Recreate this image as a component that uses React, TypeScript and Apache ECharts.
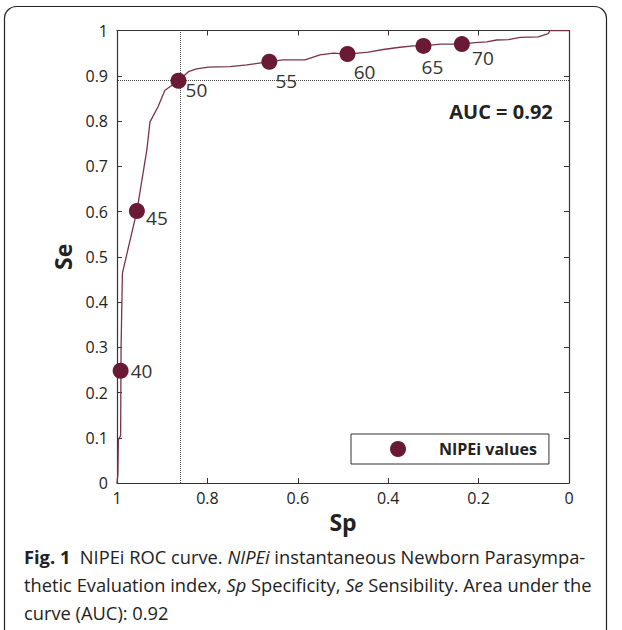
import React, { useEffect, useRef } from "react";
import * as echarts from "echarts";

// ROC curve (specificity, sensitivity)
const ROC_SP = [1, 0.998, 0.997, 0.992, 0.991, 0.988, 0.956, 0.934, 0.927, 0.909, 0.894, 0.864, 0.842, 0.824, 0.798, 0.75, 0.713, 0.663, 0.632, 0.584, 0.551, 0.521, 0.49, 0.444, 0.411, 0.374, 0.344, 0.322, 0.285, 0.237, 0.208, 0.182, 0.16, 0.134, 0.108, 0.068, 0.046, 0.042, 0];
const ROC_SE = [0, 0.02, 0.095, 0.105, 0.3, 0.464, 0.601, 0.736, 0.798, 0.832, 0.868, 0.889, 0.909, 0.915, 0.919, 0.92, 0.924, 0.931, 0.935, 0.935, 0.946, 0.95, 0.948, 0.952, 0.958, 0.963, 0.966, 0.966, 0.97, 0.97, 0.973, 0.975, 0.979, 0.98, 0.985, 0.986, 0.993, 1, 1];

// NIPEi threshold values
const THRESHOLDS = [40, 45, 50, 55, 60, 65, 70];
const POINT_SP = [0.992, 0.956, 0.864, 0.663, 0.49, 0.322, 0.237];
const POINT_SE = [0.248, 0.601, 0.889, 0.931, 0.948, 0.966, 0.97];

// optimal cut point
const CUT_SP = 0.864;
const CUT_SE = 0.89;

const AUC_TEXT = "AUC = 0.92";
const LEGEND_NAME = "NIPEi values";

// label offsets (style)
const LABEL_OFFSETS = [
  [21, 0],
  [20, 7],
  [18, 9],
  [17, 19],
  [17, 18],
  [9, 21],
  [21, 14],
];

const FONT = "'Open Sans', 'Noto Sans', sans-serif";
const INK = "#222";
const LINE_COLOR = "#7a3446";
const DOT_COLOR = "#6b1a36";
const CAP = 18.3;

export default function App() {
  const ref = useRef<HTMLDivElement>(null);
  useEffect(() => {
    if (!ref.current) return;
    const chart = echarts.init(ref.current, undefined, { renderer: "svg" });
    const axisCommon = {
      type: "value" as const,
      min: 0,
      max: 1,
      axisLine: { show: true, onZero: false, lineStyle: { color: "#333", width: 1.2 } },
      axisTick: { show: true, inside: true, length: 5, lineStyle: { color: "#333", width: 1 } },
      splitLine: { show: false },
    };
    const option: any = {
      animation: false,
      backgroundColor: "#fff",
      textStyle: { fontFamily: FONT },
      grid: { left: 117, top: 30.5, width: 452, height: 452.5 },
      xAxis: [
        {
          ...axisCommon,
          inverse: true,
          interval: 0.2,
          position: "bottom",
          name: "Sp",
          nameLocation: "middle",
          nameGap: 25,
          nameTextStyle: { fontSize: 23, fontWeight: "bold", color: INK, fontFamily: FONT },
          axisLabel: { margin: 7, fontSize: 16, color: INK, fontFamily: FONT },
        },
        {
          ...axisCommon,
          inverse: true,
          interval: 0.2,
          position: "top",
          axisLabel: { show: false },
        },
      ],
      yAxis: [
        {
          ...axisCommon,
          interval: 0.1,
          position: "left",
          name: "Se",
          nameLocation: "middle",
          nameRotate: 90,
          nameGap: 36,
          nameTextStyle: { fontSize: 23, fontWeight: "bold", color: INK, fontFamily: FONT },
          axisLabel: { margin: 9, fontSize: 16, color: INK, fontFamily: FONT },
        },
        {
          ...axisCommon,
          interval: 0.1,
          position: "right",
          axisLabel: { show: false },
        },
      ],
      legend: {
        data: [{ name: LEGEND_NAME, icon: "circle" }],
        left: 351,
        top: 434,
        orient: "horizontal",
        padding: [7, 12, 7, 39],
        itemWidth: 16,
        itemHeight: 16,
        borderColor: "#333",
        borderWidth: 1,
        borderRadius: 0,
        backgroundColor: "#fff",
        selectedMode: false,
        textStyle: { fontSize: 16, fontWeight: "bold", color: INK, fontFamily: FONT, padding: [0, 0, 0, 28] },
      },
      series: [
        {
          name: "ROC",
          type: "line",
          data: ROC_SP.map((sp, i) => [sp, ROC_SE[i]]),
          showSymbol: false,
          symbol: "none",
          lineStyle: { color: LINE_COLOR, width: 1.3 },
          itemStyle: { color: LINE_COLOR },
          silent: true,
          z: 3,
          markLine: {
            silent: true,
            symbol: ["none", "none"],
            label: { show: false },
            lineStyle: { type: "dotted", color: "#444", width: 1 },
            data: [{ xAxis: CUT_SP }, { yAxis: CUT_SE }],
          },
        },
        {
          name: LEGEND_NAME,
          type: "scatter",
          data: POINT_SP.map((sp, i) => ({
            value: [sp, POINT_SE[i]],
            label: { offset: LABEL_OFFSETS[i] },
          })),
          symbol: "circle",
          symbolSize: 16,
          itemStyle: { color: DOT_COLOR, opacity: 1 },
          z: 5,
          label: {
            show: true,
            position: "inside",
            align: "center",
            verticalAlign: "middle",
            fontSize: 19,
            color: "#333",
            fontFamily: FONT,
            formatter: (p: any) => String(THRESHOLDS[p.dataIndex]),
          },
        },
      ],
      graphic: [
        {
          type: "rect",
          shape: { x: 4.5, y: 6.5, width: 602, height: 640, r: 12 },
          style: { fill: "none", stroke: "#222", lineWidth: 1.2 },
          silent: true,
          z: 100,
        },
        {
          type: "text",
          x: 501,
          y: 111,
          style: {
            text: AUC_TEXT,
            fontSize: 20,
            fontWeight: "bold",
            fill: INK,
            fontFamily: FONT,
            align: "center",
            verticalAlign: "middle",
          },
        },
        {
          type: "text",
          x: 24,
          y: 556,
          style: {
            text: "{b|Fig. 1}  NIPEi ROC curve. {i|NIPEi} instantaneous Newborn Parasympa-",
            fontSize: CAP,
            fill: INK,
            fontFamily: FONT,
            verticalAlign: "middle",
            rich: {
              b: { fontWeight: "bold", fontSize: CAP, fontFamily: FONT, fill: INK },
              i: { fontStyle: "italic", fontSize: CAP, fontFamily: FONT, fill: INK },
            },
          },
        },
        {
          type: "text",
          x: 24,
          y: 584,
          style: {
            text: "thetic Evaluation index, {i|Sp} Specificity, {i|Se} Sensibility. Area under the",
            fontSize: CAP,
            fill: INK,
            fontFamily: FONT,
            verticalAlign: "middle",
            rich: {
              i: { fontStyle: "italic", fontSize: CAP, fontFamily: FONT, fill: INK },
            },
          },
        },
        {
          type: "text",
          x: 24,
          y: 612,
          style: {
            text: "curve (AUC): 0.92",
            fontSize: CAP,
            fill: INK,
            fontFamily: FONT,
            verticalAlign: "middle",
          },
        },
      ],
    };
    chart.setOption(option);
    return () => chart.dispose();
  }, []);
  return (
    <div
      ref={ref}
      style={{ position: "fixed", left: 0, top: 0, width: 622, height: 630 }}
    />
  );
}
